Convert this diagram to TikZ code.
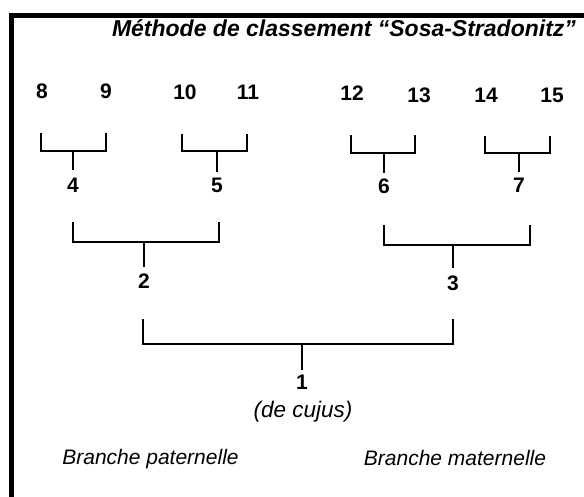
\documentclass[tikz,border=0pt]{standalone}
\usepackage{fontspec}
\setmainfont{Liberation Sans}
\begin{document}
\begin{tikzpicture}[x=1pt,y=1pt,
  num/.style={font=\fontsize{21}{21}\selectfont\bfseries, inner sep=0pt, outer sep=0pt},
  lbl/.style={font=\fontsize{21}{21}\selectfont\itshape, inner sep=0pt, anchor=base},
  brk/.style={line width=1.9pt, line join=miter},
  frame/.style={line width=4.5pt, line join=miter}]
\useasboundingbox (0,0) rectangle (584,-497);
\fill[white] (0,0) rectangle (584,-497);
% frame
\coordinate (fb) at (11.5,-497);
\coordinate (fc) at (11.5,-15.5);
\coordinate (fr) at (584,-15.5);
\draw[frame] (fb) -- (fc) -- (fr);
% title
\node[font=\fontsize{23}{23}\selectfont\bfseries\itshape, inner sep=0pt, anchor=base] (title) at (344,-36.5) {Méthode de classement “Sosa-Stradonitz”};
% generation 4
\node[num] (n8) at (42,-91) {8};
\node[num] (n9) at (106,-91) {9};
\node[num] (n10) at (185,-92) {10};
\node[num] (n11) at (248,-92) {11};
\node[num] (n12) at (352,-93) {12};
\node[num] (n13) at (419,-95) {13};
\node[num] (n14) at (486,-95) {14};
\node[num] (n15) at (552,-95) {15};
% generation 3
\node[num] (n4) at (73,-185) {4};
\node[num] (n5) at (217,-185) {5};
\node[num] (n6) at (384,-186) {6};
\node[num] (n7) at (519,-185) {7};
% generation 2
\node[num] (n2) at (144,-281) {2};
\node[num] (n3) at (453,-283) {3};
% generation 1
\node[num] (n1) at (302,-382.5) {1};
\node[lbl, font=\fontsize{22.5}{22.5}\selectfont\itshape] (cujus) at (303,-417) {(de cujus)};
\node[lbl] (pat) at (150.5,-464) {Branche paternelle};
\node[lbl] (mat) at (455,-465) {Branche maternelle};
% brackets level 1
\draw[brk] ([xshift=-1pt]n8 |- 0,-133) -- ([xshift=-1pt]n8 |- 0,-151) -- (n9 |- 0,-151) -- (n9 |- 0,-133);
\draw[brk] (n4 |- 0,-151) -- (n4 |- 0,-170);
\draw[brk] ([xshift=-3pt]n10 |- 0,-134) -- ([xshift=-3pt]n10 |- 0,-151) -- ([xshift=-1pt]n11 |- 0,-151) -- ([xshift=-1pt]n11 |- 0,-134);
\draw[brk] (n5 |- 0,-151) -- (n5 |- 0,-172);
\draw[brk] ([xshift=-1pt]n12 |- 0,-135) -- ([xshift=-1pt]n12 |- 0,-153) -- ([xshift=-4pt]n13 |- 0,-153) -- ([xshift=-4pt]n13 |- 0,-135);
\draw[brk] (n6 |- 0,-153) -- (n6 |- 0,-173);
\draw[brk] ([xshift=-1pt]n14 |- 0,-136) -- ([xshift=-1pt]n14 |- 0,-153) -- ([xshift=-2pt]n15 |- 0,-153) -- ([xshift=-2pt]n15 |- 0,-136);
\draw[brk] (n7 |- 0,-153) -- (n7 |- 0,-172);
% brackets level 2
\draw[brk] (n4 |- 0,-222) -- (n4 |- 0,-242) -- ([xshift=2pt]n5 |- 0,-242) -- ([xshift=2pt]n5 |- 0,-222);
\draw[brk] (n2 |- 0,-242) -- (n2 |- 0,-267);
\draw[brk] (n6 |- 0,-225) -- (n6 |- 0,-245) -- ([xshift=11pt]n7 |- 0,-245) -- ([xshift=11pt]n7 |- 0,-225);
\draw[brk] (n3 |- 0,-245) -- (n3 |- 0,-268);
% bracket level 3
\draw[brk] ([xshift=-1pt]n2 |- 0,-319) -- ([xshift=-1pt]n2 |- 0,-344) -- (n3 |- 0,-344) -- (n3 |- 0,-319);
\draw[brk] (n1 |- 0,-344) -- (n1 |- 0,-370);
\end{tikzpicture}
\end{document}
